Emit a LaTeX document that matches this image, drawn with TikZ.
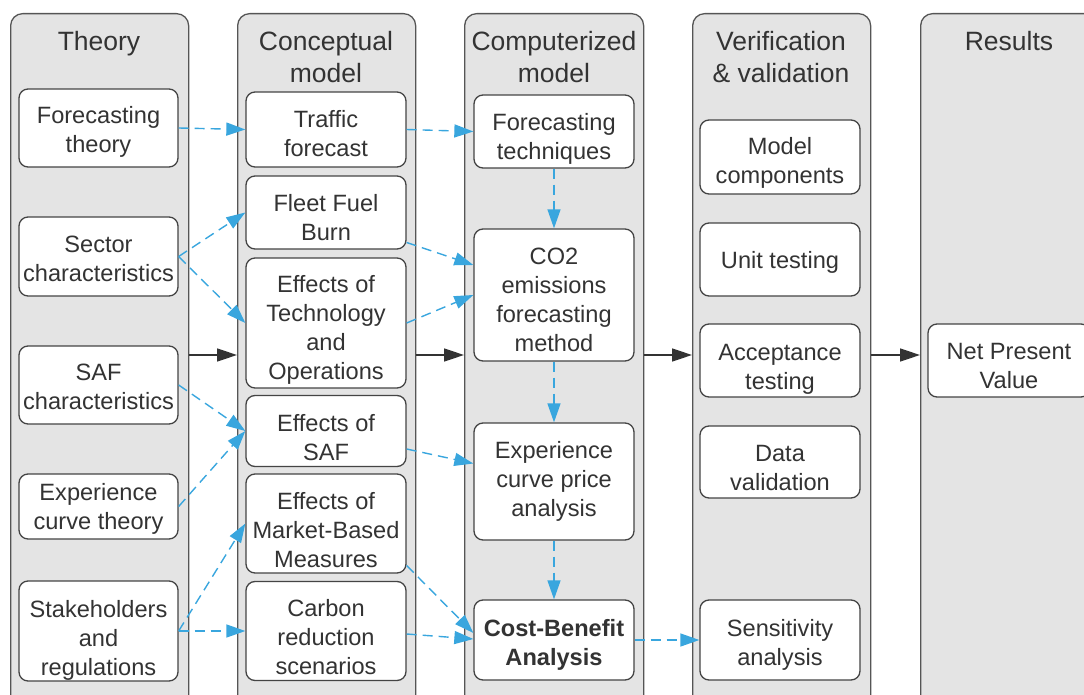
\documentclass[tikz,border=0pt]{standalone}
\usepackage{fontspec}
\setmainfont{Liberation Sans}
\usetikzlibrary{arrows.meta,calc}
\definecolor{colfill}{RGB}{228,228,228}
\definecolor{colline}{RGB}{85,85,85}
\definecolor{boxline}{RGB}{68,68,68}
\definecolor{txt}{RGB}{51,51,51}
\definecolor{flow}{RGB}{57,166,222}
\newcommand\boxfont{\fontsize{23.6}{29}\selectfont}
\newcommand\titlefont{\fontsize{26.5}{31.5}\selectfont}
% text block whose cap-centre sits #1 pt below the node centre
\newcommand\tb[2]{\rule[-6pt]{0pt}{\dimexpr 29pt+#1pt*2\relax}#2\rule[-6pt]{0pt}{29pt}}
\tikzset{
  column/.style={draw=colline, fill=colfill, line width=1.3pt, rounded corners=12pt, anchor=north west, inner sep=0pt},
  coltitle/.style={text=txt, font=\titlefont, align=center, inner sep=0pt},
  stepbox/.style={draw=boxline, fill=white, line width=1.3pt, rounded corners=9pt, text=txt, font=\boxfont, align=center, minimum width=160pt, inner sep=0pt},
  flowarrow/.style={draw=flow, line width=1.4pt, dash pattern=on 10pt off 6pt, -{Triangle[length=19pt,width=13pt,fill=flow]}},
  mainarrow/.style={draw=txt, line width=1.5pt, -{Triangle[length=20pt,width=13pt,fill=txt]}}
}
\begin{document}
\begin{tikzpicture}[x=1pt,y=-1pt]
\useasboundingbox (0,0) rectangle (1084,695);
\clip (0,0) rectangle (1084,695);
% columns
\node[column, minimum width=178pt, minimum height=720pt] (c1) at (10,13) {};
\node[column, minimum width=178pt, minimum height=720pt] (c2) at (237,13) {};
\node[column, minimum width=179pt, minimum height=720pt] (c3) at (464,13) {};
\node[column, minimum width=178pt, minimum height=720pt] (c4) at (692,13) {};
\node[column, minimum width=200pt, minimum height=720pt] (c5) at (920,13) {};
% titles
\node[coltitle] (t1) at (99,43.5) {Theory};
\node[coltitle] (t2) at (326,57) {Conceptual\\model};
\node[coltitle] (t3) at (554,57) {Computerized\\model};
\node[coltitle] (t4) at (781,57) {Verification\\\& validation};
\node[coltitle] (t5) at (1009,41) {Results};
% theory
\node[stepbox, minimum width=159pt, minimum height=78pt] (ft) at (98.5,128) {\tb{2}{Forecasting\\theory}};
\node[stepbox, minimum width=159pt, minimum height=79pt] (sc) at (98.5,256.5) {\tb{2}{Sector\\characteristics}};
\node[stepbox, minimum width=159pt, minimum height=78pt] (safc) at (98.5,385) {\tb{1.5}{SAF\\characteristics}};
\node[stepbox, minimum width=159pt, minimum height=65pt] (ect) at (98.5,506.5) {\tb{0}{Experience\\curve theory}};
\node[stepbox, minimum width=159pt, minimum height=98pt] (sr) at (98.5,631) {\tb{6.5}{Stakeholders\\and\\regulations}};
% conceptual
\node[stepbox, minimum height=75pt] (tf) at (326,129.5) {\tb{4}{Traffic\\forecast}};
\node[stepbox, minimum height=73pt] (ffb) at (326,212.5) {\tb{5}{Fleet Fuel\\Burn}};
\node[stepbox, minimum height=130pt] (eto) at (326,323) {\tb{4.5}{Effects of\\Technology\\and\\Operations}};
\node[stepbox, minimum height=70pt] (esaf) at (326,431) {\tb{6.5}{Effects of\\SAF}};
\node[stepbox, minimum height=99pt] (mbm) at (326,523.5) {\tb{6}{Effects of\\Market-Based\\Measures}};
\node[stepbox, minimum height=98pt] (crs) at (326,631) {\tb{6}{Carbon\\reduction\\scenarios}};
% computerized
\node[stepbox, minimum height=73pt] (fte) at (554,131.5) {\tb{5}{Forecasting\\techniques}};
\node[stepbox, minimum height=132pt] (co2) at (554,295) {\tb{4}{CO2\\emissions\\forecasting\\method}};
\node[stepbox, minimum height=117pt] (ecpa) at (554,481.5) {\tb{-3}{Experience\\curve price\\analysis}};
\node[stepbox, minimum height=80pt, font=\boxfont\bfseries] (cba) at (554,640) {\tb{2.5}{Cost-Benefit\\Analysis}};
% verification
\node[stepbox, minimum height=74pt] (mc) at (780,157) {\tb{3.5}{Model\\components}};
\node[stepbox, minimum height=73pt] (ut) at (780,259.5) {\tb{-3}{Unit testing}};
\node[stepbox, minimum height=73pt] (at) at (780,360.5) {\tb{5.5}{Acceptance\\testing}};
\node[stepbox, minimum height=72pt] (dv) at (780,462) {\tb{5}{Data\\validation}};
\node[stepbox, minimum height=80pt] (sa) at (780,640) {\tb{2.5}{Sensitivity\\analysis}};
% results
\node[stepbox, minimum width=162pt, minimum height=73pt] (npv) at (1009,360.5) {\tb{5}{Net Present\\Value}};
% main flow
\coordinate (mid) at (0,355);
\draw[mainarrow] (c1.east |- mid) -- (c2.west |- mid);
\draw[mainarrow] (c2.east |- mid) -- (c3.west |- mid);
\draw[mainarrow] (c3.east |- mid) -- (c4.west |- mid);
\draw[mainarrow] (c4.east |- mid) -- (c5.west |- mid);
% blue flows
\draw[flowarrow] (ft.east) -- (tf.west);
\draw[flowarrow] (tf.east) -- (fte.west);
\draw[flowarrow] (sc.east) -- (ffb.west);
\draw[flowarrow] (sc.east) -- (eto.west);
\draw[flowarrow] (safc.east) -- (esaf.west);
\draw[flowarrow] (ect.east) -- (esaf.west);
\draw[flowarrow] (sr.east) -- (mbm.west);
\draw[flowarrow] (sr.east) -- (crs.west);
\draw[flowarrow] ($(ffb.east)+(0,30)$) -- ($(co2.west)+(0,-30)$);
\draw[flowarrow] (eto.east) -- (co2.west);
\draw[flowarrow] ($(esaf.east)+(0,18)$) -- ($(ecpa.west)+(0,-18)$);
\draw[flowarrow] ($(mbm.east)+(0,42)$) -- ($(cba.west)+(0,-7)$);
\draw[flowarrow] ($(crs.east)+(0,3)$) -- ($(cba.west)+(0,-1)$);
\draw[flowarrow] (fte.south) -- (co2.north);
\draw[flowarrow] (co2.south) -- (ecpa.north);
\draw[flowarrow] (ecpa.south) -- (cba.north);
\draw[flowarrow] (cba.east) -- (sa.west);
\end{tikzpicture}
\end{document}
